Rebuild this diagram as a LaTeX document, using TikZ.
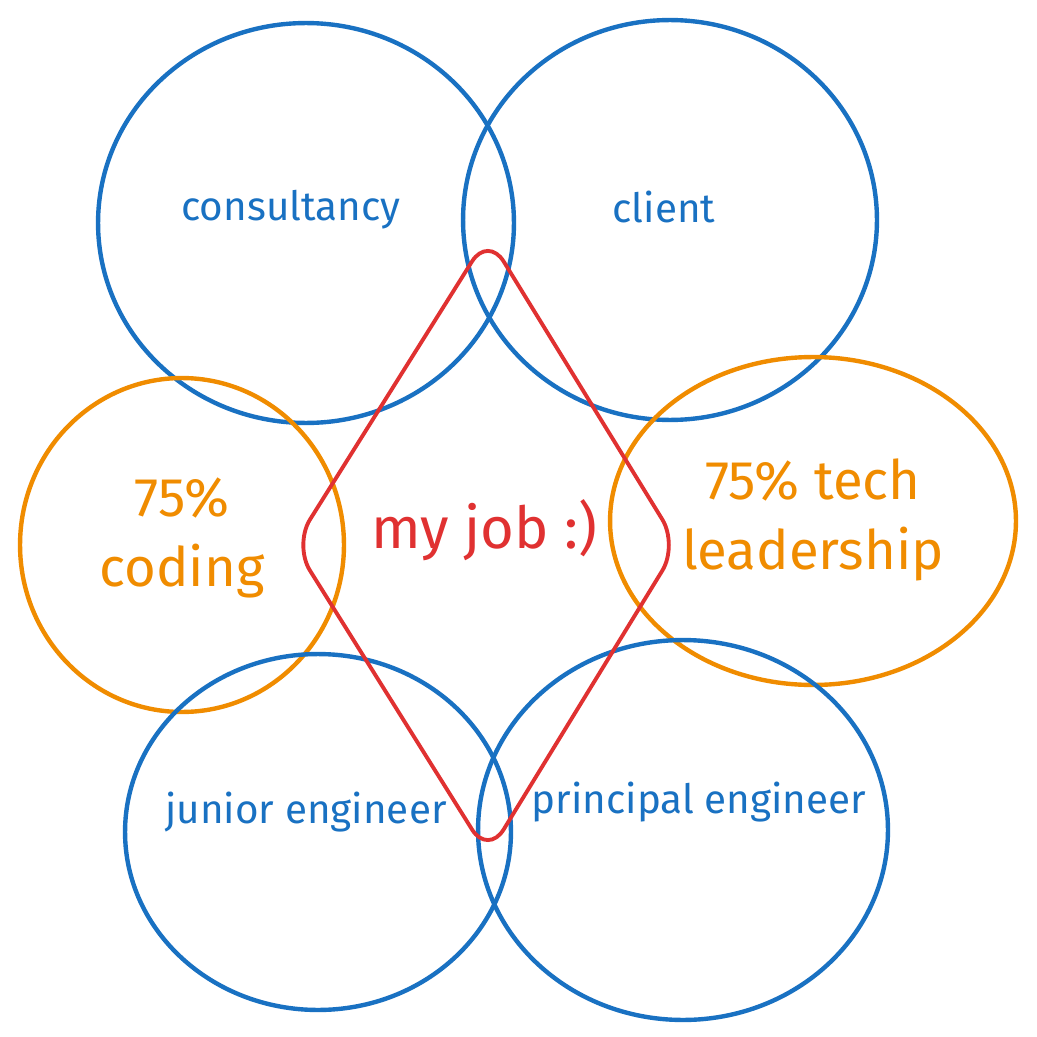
\documentclass[tikz,border=0pt]{standalone}
\usepackage{fontspec}
\setmainfont{Fira Sans}
\usetikzlibrary{shapes.geometric, positioning}

\definecolor{venblue}{HTML}{1971C2}
\definecolor{venorange}{HTML}{F08C00}
\definecolor{venred}{HTML}{E03131}

\tikzset{
    ring/.style={ellipse, draw=#1, line width=2.5pt, inner sep=0pt},
    lbl/.style={text=#1, align=center, font=\fontsize{23}{27}\selectfont},
    biglbl/.style={text=#1, align=center, font=\fontsize{31}{40}\selectfont},
}

\begin{document}
\begin{tikzpicture}[x=0.02cm, y=-0.02cm]
        \useasboundingbox[fill=white] (0,0) rectangle (1036,1037);

        % the six circles
        \node[ring=venblue, minimum width=8.32cm, minimum height=8cm] (consult) at (306,223) {};
        \node[ring=venblue, minimum width=8.28cm, minimum height=8cm] (client) at (670,220) {};
        \node[ring=venorange, minimum width=6.48cm, minimum height=6.68cm] (coding) at (182,545) {};
        \node[ring=venorange, minimum width=8.12cm, minimum height=6.56cm] (lead) at (813,521) {};
        \node[ring=venblue, minimum width=7.72cm, minimum height=7.12cm] (junior) at (318,832) {};
        \node[ring=venblue, minimum width=8.2cm, minimum height=7.6cm] (principal) at (683,830) {};

        % the diamond in the middle
        \coordinate (top) at (488,236);
        \coordinate (right) at (678,545);
        \coordinate (bottom) at (488,855);
        \coordinate (left) at (294,545);
        \draw[venred, line width=2.2pt, rounded corners=0.6cm] (top)--(right)--(bottom)--(left)--cycle;

        % labels
        \node[lbl=venblue] (consultTxt) at (291,210) {consultancy};
        \node[lbl=venblue] (clientTxt) at (664,207) {client};
        \node[biglbl=venorange] (codingTxt) at (182,538) {75\%\\coding};
        \node[biglbl=venorange] (leadTxt) at (813,520) {75\% tech\\leadership};
        \node[biglbl=venred, font=\fontsize{33}{40}\selectfont] (jobTxt) at (484,530) {my job :)};
        \node[lbl=venblue] (juniorTxt) at (306,812) {junior engineer};
        \node[lbl=venblue] (principalTxt) at (699,802) {principal engineer};
    \end{tikzpicture}
\end{document}
